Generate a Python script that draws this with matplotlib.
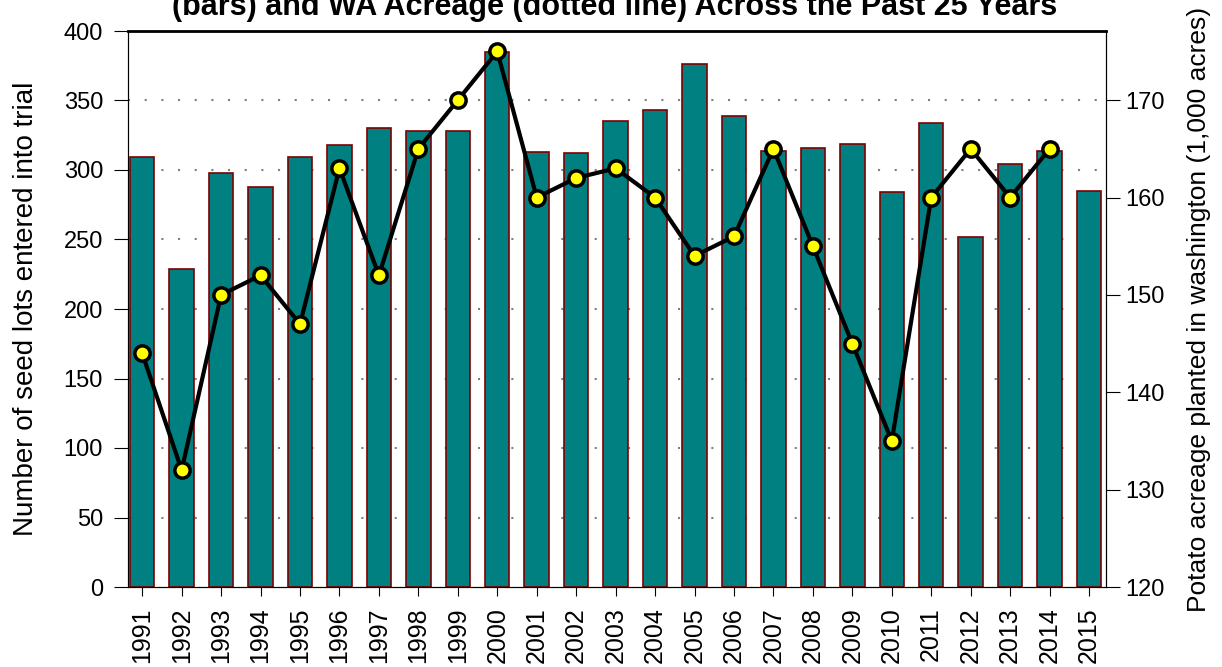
import matplotlib.pyplot as plt
import numpy as np

plt.rcParams['font.family'] = ['Liberation Sans', 'DejaVu Sans']

# donnees
years = [str(y) for y in range(1991, 2016)]
seed_lots = [309, 229, 298, 288, 309, 318, 330, 328, 328, 385, 313, 312, 335,
             343, 376, 339, 314, 316, 319, 284, 334, 252, 304, 314, 285]
acreage = [144, 132, 150, 152, 147, 163, 152, 165, 170, 175, 160, 162, 163,
           160, 154, 156, 165, 155, 145, 135, 160, 165, 160, 165]

fig = plt.figure(figsize=(12.22, 6.67), dpi=100)
ax = fig.add_axes([128/1222, 1 - 587/667, (1106-128)/1222, (587-31)/667])

x = np.arange(len(years))
ax.bar(x, seed_lots, width=0.62, color='#008080', edgecolor='#800000', linewidth=1.2, zorder=2)
ax.set_xlim(-0.36, len(years) - 1 + 0.43)
ax.set_ylim(0, 400)
ax.set_yticks(range(0, 401, 50))
ax.set_xticks(x)
ax.set_xticklabels(years, rotation=90, fontsize=18)
ax.tick_params(axis='y', labelsize=17, length=10, pad=8, direction='out')
ax.tick_params(axis='x', length=6.5, pad=8, direction='out')
ax.set_ylabel('Number of seed lots entered into trial', fontsize=20, labelpad=18)
for yv in range(50, 400, 50):
    ax.axhline(yv, color='#808080', linestyle=(0, (1, 7)), linewidth=1.5, zorder=1)
ax.spines['top'].set_linewidth(2)

ax2 = ax.twinx()
ax2.plot(x[:len(acreage)], acreage, '-o', color='black', linewidth=3,
         markersize=11, markerfacecolor='#ffff00', markeredgecolor='black',
         markeredgewidth=2.5, zorder=3)
ax2.set_ylim(120, 177.1)
ax2.set_yticks(range(120, 171, 10))
ax2.tick_params(axis='y', labelsize=17, length=10, pad=4, direction='out')
ax2.set_ylabel('Potato acreage planted in washington (1,000 acres)', fontsize=19, labelpad=16)

fig.text(0.503, 1 - 15/667, '(bars) and WA Acreage (dotted line) Across the Past 25 Years',
         ha='center', va='baseline', fontsize=22, fontweight='bold')

fig.savefig('out.png', dpi=100)
